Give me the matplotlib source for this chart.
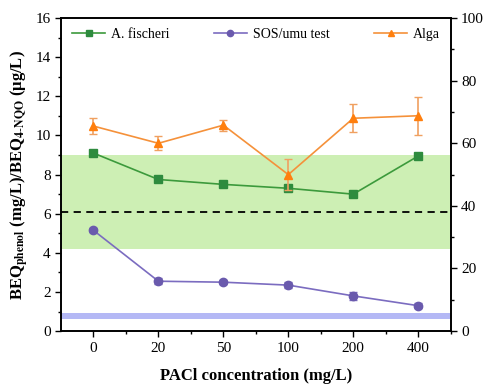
import matplotlib
matplotlib.use("Agg")
import matplotlib.pyplot as plt
from matplotlib.ticker import MultipleLocator
from matplotlib.lines import Line2D
import numpy as np

categories = ["0", "20", "50", "100", "200", "400"]
fischeri = [9.1, 7.75, 7.5, 7.3, 7.0, 8.95]
fischeri_err = [0.15, 0.1, 0.08, 0.1, 0.08, 0.12]
sos = [5.15, 2.55, 2.5, 2.35, 1.8, 1.3]
sos_err = [0.1, 0.15, 0.1, 0.15, 0.22, 0.12]
alga = [65.5, 60.0, 65.8, 50.0, 68.0, 68.8]
alga_err = [2.5, 2.2, 1.8, 5.0, 4.5, 6.0]

green_band = (4.2, 9.0)
blue_band = (0.6, 0.95)
dashed_level = 6.1

plt.rcParams['font.family'] = ['Liberation Serif', 'DejaVu Serif']
plt.rcParams['mathtext.fontset'] = 'stix'

fig = plt.figure(figsize=(4.89, 3.85), dpi=100)
ax = fig.add_axes([0.1247, 0.140, 0.797, 0.813])
ax2 = ax.twinx()

x = np.arange(len(categories))

ax.axhspan(*green_band, color='#cdefb4', lw=0, zorder=0)
ax.axhspan(*blue_band, color='#b4b8f5', lw=0, zorder=0)
ax.axhline(dashed_level, color='black', ls=(0, (4, 3)), lw=1.3, zorder=1)

c1, m1 = '#3c9a3c', '#2e8b3e'
c2, m2 = '#7b6cc0', '#6a5aad'
c3, m3 = '#f5913a', '#ff7f0e'

ax.errorbar(x, fischeri, yerr=fischeri_err, color=c1, marker='s', ms=6,
            mfc=m1, mec=m1, lw=1.2, capsize=3, zorder=3)
ax.errorbar(x, sos, yerr=sos_err, color=c2, marker='o', ms=6,
            mfc=m2, mec=m2, lw=1.2, capsize=3, zorder=3)
ax2.errorbar(x, alga, yerr=alga_err, color=c3, marker='^', ms=6,
             mfc=m3, mec=m3, ecolor='#f0a060', lw=1.2, capsize=3, zorder=3)

ax.set_xlim(-0.5, 5.5)
ax.set_ylim(0, 16)
ax2.set_ylim(0, 100)
ax.set_xticks(x)
ax.set_xticklabels(categories)
ax.set_xticks(x + 0.5, minor=True)
ax.yaxis.set_major_locator(MultipleLocator(2))
ax.yaxis.set_minor_locator(MultipleLocator(1))
ax2.yaxis.set_major_locator(MultipleLocator(20))
ax2.yaxis.set_minor_locator(MultipleLocator(10))

for a in (ax, ax2):
    a.tick_params(which='major', direction='out', length=4, width=1, labelsize=11)
    a.tick_params(which='minor', direction='out', length=2.5, width=1)
    for s in a.spines.values():
        s.set_linewidth(1.2)

ax.set_xlabel('PACl concentration (mg/L)', fontsize=12, fontweight='bold', labelpad=10)
ax.set_ylabel(r'BEQ$_{\mathbf{phenol}}$ (mg/L)/BEQ$_{\mathbf{4\text{-}NQO}}$ (μg/L)',
              fontsize=12, fontweight='bold')

handles = [
    Line2D([], [], color=c1, marker='s', ms=4.5, mfc=m1, mec=m1, lw=1.2),
    Line2D([], [], color=c2, marker='o', ms=4.5, mfc=m2, mec=m2, lw=1.2),
    Line2D([], [], color=c3, marker='^', ms=4.5, mfc=m3, mec=m3, lw=1.2),
]
ax.legend(handles, ['A. fischeri', 'SOS/umu test', 'Alga'], loc='upper center', ncol=3,
          frameon=False, fontsize=10, handlelength=2.4, columnspacing=3.2,
          bbox_to_anchor=(0.5, 1.0), borderaxespad=0.3, handletextpad=0.4)

fig.savefig('out.png', dpi=100)
